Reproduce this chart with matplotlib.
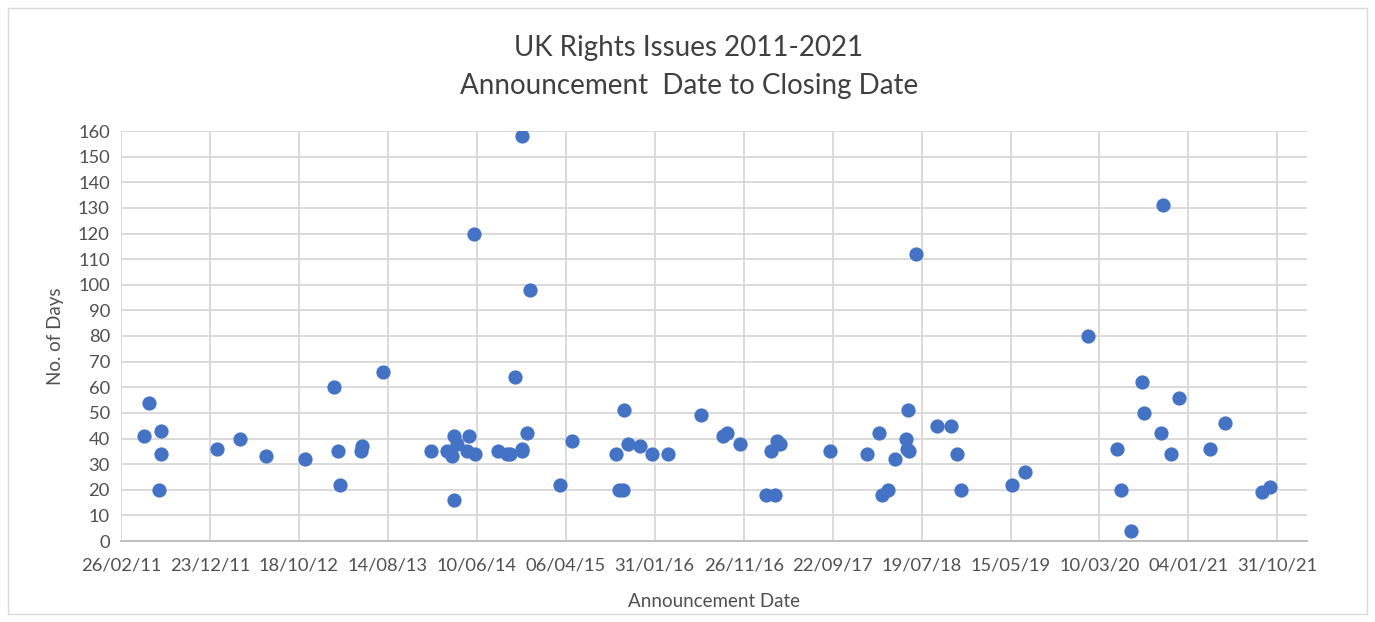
import matplotlib
matplotlib.use("Agg")
import matplotlib.pyplot as plt
import matplotlib.dates as mdates
import numpy as np
import datetime as dt

# ---- data ----
start_date = "2011-02-26"
# announcement dates expressed as days after 26/02/2011
days_after_start = [79, 93, 134, 134, 127, 324, 402, 489, 621, 719, 732, 737, 810, 813, 883,
                    1047, 1100, 1116, 1123, 1134, 1123, 1168, 1175, 1190, 1193, 1271, 1303, 1311,
                    1328, 1353, 1351, 1353, 1368, 1379, 1482, 1522, 1671, 1679, 1692, 1697, 1711,
                    1751, 1792, 1846, 1956, 2029, 2045, 2088, 2175, 2193, 2205, 2212, 2222, 2391,
                    2516, 2557, 2568, 2587, 2612, 2648, 2650, 2656, 2655, 2681, 2751, 2801, 2819,
                    2834, 3006, 3049, 3261, 3360, 3372, 3408, 3444, 3451, 3507, 3513, 3542, 3568,
                    3674, 3722, 3848, 3874]
num_days = [41, 54, 43, 34, 20, 36, 40, 33, 32, 60, 35, 22, 35, 37, 66,
            35, 35, 33, 41, 38, 16, 35, 41, 120, 34, 35, 34, 34,
            64, 158, 36, 35, 42, 98, 22, 39, 34, 20, 20, 51, 38,
            37, 34, 34, 49, 41, 42, 38, 18, 35, 18, 39, 38, 35,
            34, 42, 18, 20, 32, 40, 36, 35, 51, 112, 45, 45, 34,
            20, 22, 27, 80, 36, 20, 4, 62, 50, 42, 131, 34, 56,
            36, 46, 19, 21]

title_lines = ["UK Rights Issues 2011-2021", "Announcement  Date to Closing Date"]
x_label = "Announcement Date"
y_label = "No. of Days"

# ---- figure ----
plt.rcParams['font.family'] = ['Lato', 'DejaVu Sans']
fig = plt.figure(figsize=(13.75, 6.22), dpi=100)
ax = fig.add_axes([121/1375, 1-541/622, (1307-121)/1375, (541-131)/622])

base = dt.datetime.strptime(start_date, "%Y-%m-%d")
dates = [base + dt.timedelta(days=d) for d in days_after_start]
ax.scatter(dates, num_days, s=105, color="#4472C4", zorder=3, linewidths=0)

ticks = [base + dt.timedelta(days=300 * k) for k in range(14)]
ax.set_xticks(ticks)
ax.xaxis.set_major_formatter(mdates.DateFormatter("%d/%m/%y"))
ax.set_xlim(base, base + dt.timedelta(days=4000))
ax.set_ylim(0, 160)
ax.set_yticks(np.arange(0, 161, 10))

ax.grid(True, color="#D9D9D9", linewidth=1.4)
ax.set_axisbelow(True)
for s in ["top", "right", "left"]:
    ax.spines[s].set_visible(False)
ax.spines["bottom"].set_color("#BFBFBF")
ax.spines["bottom"].set_linewidth(1.4)
ax.tick_params(axis="both", length=0, labelsize=13.2, labelcolor="#505050")
ax.tick_params(axis="x", pad=12)
ax.tick_params(axis="y", pad=8)

ax.set_xlabel(x_label, fontsize=13.5, color="#505050", labelpad=14)
ax.set_ylabel(y_label, fontsize=13.5, color="#505050", labelpad=10)

fig.text(0.501, 1-48/622, title_lines[0], ha="center", va="center", fontsize=20, color="#404040")
fig.text(0.501, 1-86/622, title_lines[1], ha="center", va="center", fontsize=20, color="#404040")

# outer chart border
fig.patches.append(plt.Rectangle((8/1375, 8/622), 1-16/1375, 1-16/622, transform=fig.transFigure,
                                 fill=False, edgecolor="#D9D9D9", linewidth=1))

fig.savefig("out.png", dpi=100)
